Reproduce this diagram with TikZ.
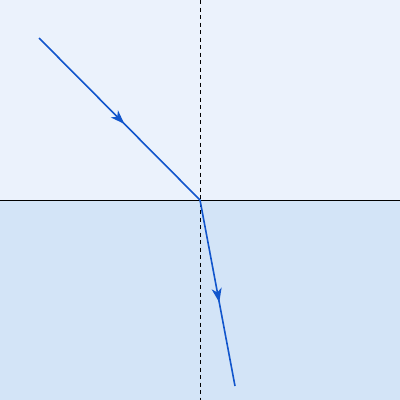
\documentclass[tikz,border=0pt]{standalone}
\usetikzlibrary{arrows.meta,decorations.markings}
\definecolor{airc}{HTML}{EBF2FC}
\definecolor{waterc}{HTML}{D3E4F7}
\definecolor{rayc}{HTML}{1155CC}
\tikzset{
  ray/.style={draw=rayc,line width=1.6pt,
    postaction={decorate},
    decoration={markings,mark=at position #1 with {\arrow{Stealth[length=14pt,width=10pt,inset=4pt]}}}},
  normalline/.style={draw=black,line width=0.8pt,dash pattern=on 4pt off 3.5pt},
  surface/.style={draw=black,line width=0.9pt}
}
\begin{document}
\begin{tikzpicture}[x=1pt,y=-1pt]
\useasboundingbox (0,0) rectangle (400,400);
\fill[airc] (0,0) rectangle (400,200);
\fill[waterc] (0,200) rectangle (400,400);
\coordinate (L) at (0,200);
\coordinate (R) at (400,200);
\coordinate (T) at (200,0);
\coordinate (B) at (200,400);
\coordinate (S) at (39,38);
\coordinate (O) at (200,200);
\coordinate (E) at (235,386);
\draw[normalline] (T) -- (B);
\draw[surface] (L) -- (R);
\draw[ray=0.53] (S) -- (O);
\draw[ray=0.55] (O) -- (E);
\end{tikzpicture}
\end{document}
